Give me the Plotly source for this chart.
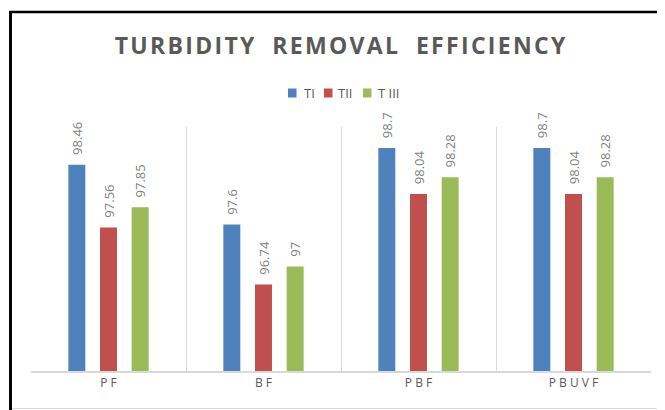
import plotly.graph_objects as go

categories = ["PF", "BF", "PBF", "PBUVF"]
tick_labels = ["P F", "B F", "P B F", "P B U V F"]
series_names = ["TI", "TII", "T III"]
t1 = [98.46, 97.6, 98.7, 98.7]
t2 = [97.56, 96.74, 98.04, 98.04]
t3 = [97.85, 97.0, 98.28, 98.28]
colors = ["#4F81BD", "#C0504D", "#9BBB59"]

# page body has an 8px margin; work in screen pixels and convert
OFF = 8
W, H = 665 - OFF, 410 - OFF
# plot area in screen pixels
PX0, PX1, PY0, PY1 = 31, 651, 127, 371
ml = PX0 - OFF
mr = W - (PX1 - OFF)
mt = PY0 - OFF
mb = H - (PY1 - OFF)
pw = W - ml - mr
ph = H - mt - mb


def sx(px):
    return (px - PX0) / pw


def sy(py):
    return (PY1 - py) / ph


FONT = "Open Sans, sans-serif"

fig = go.Figure()
for name, vals, c in zip(series_names, [t1, t2, t3], colors):
    fig.add_trace(go.Bar(
        x=categories, y=vals, name=name, marker=dict(color=c, line=dict(width=0)),
        text=["\u00a0\u00a0" + f"{v:g}" for v in vals], textposition="outside", textangle=-90,
        textfont=dict(family=FONT, size=13, color="#7F7F7F"),
        constraintext="none", cliponaxis=False, showlegend=False,
    ))

shapes = [
    dict(type="line", xref="paper", yref="paper", x0=sx(10.5), x1=sx(10.5), y0=sy(11), y1=sy(415),
         line=dict(color="black", width=3)),
    dict(type="line", xref="paper", yref="paper", x0=sx(9), x1=sx(680), y0=sy(12), y1=sy(12),
         line=dict(color="black", width=2.5)),
    dict(type="line", xref="paper", yref="paper", x0=sx(12), x1=sx(680), y0=sy(408.5), y1=sy(408.5),
         line=dict(color="#D9D9D9", width=1)),
]

annotations = []
leg_sq_x = [288, 324, 363]
leg_tx_x = [302, 336, 376]
leg_y = 93
for name, c, qx, tx in zip(series_names, colors, leg_sq_x, leg_tx_x):
    shapes.append(dict(type="rect", xref="paper", yref="paper",
                       x0=sx(qx), x1=sx(qx + 8.5), y0=sy(leg_y + 4.5), y1=sy(leg_y - 4.5),
                       fillcolor=c, line=dict(width=0)))
    annotations.append(dict(text=name, xref="paper", yref="paper", x=sx(tx), y=sy(leg_y),
                            xanchor="left", yanchor="middle", showarrow=False,
                            font=dict(family=FONT, size=13, color="#595959")))

title_text = ("\u200a".join("TURBIDITY") + "\u00a0\u00a0\u00a0" + "\u200a".join("REMOVAL")
              + "\u00a0\u00a0\u00a0" + "\u200a".join("EFFICIENCY"))

fig.update_layout(
    width=W, height=H,
    margin=dict(l=ml, r=mr, t=mt, b=mb, pad=0),
    paper_bgcolor="white", plot_bgcolor="white",
    barmode="group", bargap=0.387, bargroupgap=0.464,
    title=dict(text=title_text, x=(340 - OFF) / W, xref="container", xanchor="center",
               y=1 - (46 - OFF) / H, yanchor="middle",
               font=dict(family=FONT, size=23, color="#595959", weight="bold")),
    showlegend=False,
    shapes=shapes,
    annotations=annotations,
)

fig.update_xaxes(
    categoryorder="array", categoryarray=categories,
    tickvals=categories, ticktext=tick_labels,
    tickson="boundaries", showgrid=True, gridcolor="#D9D9D9", gridwidth=1,
    showline=True, linecolor="#D9D9D9", linewidth=1.5, ticks="",
    tickfont=dict(family=FONT, size=12, color="#595959"),
    range=[-0.5, 3.5], fixedrange=True,
)
fig.update_yaxes(range=[95.5, 99], showticklabels=False, showgrid=False, zeroline=False,
                 showline=False, ticks="")

fig.write_html("out.html")
